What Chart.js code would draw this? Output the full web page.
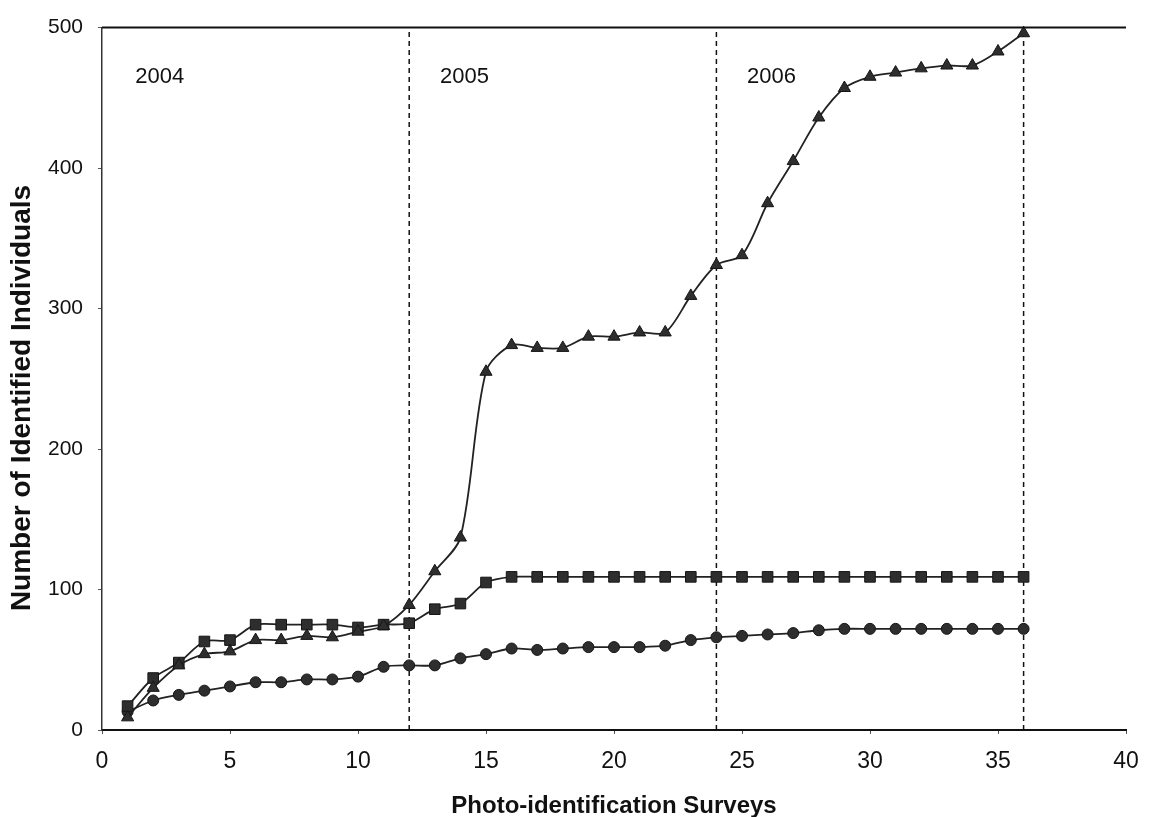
<!DOCTYPE html>
<html>
<head>
<meta charset="utf-8">
<title>Photo-identification Surveys</title>
<script src="https://cdn.jsdelivr.net/npm/chart.js@4.4.1/dist/chart.umd.min.js"></script>
<style>
    body { margin: 0; background: #ffffff; }
    #chartBox { width: 1155px; height: 817px; }
</style>
</head>
<body>
<div id="chartBox">
    <canvas id="surveyChart" width="1155" height="817"></canvas>
</div>
<script>
// Survey number (x) for each point
const surveys = [1, 2, 3, 4, 5, 6, 7, 8, 9, 10, 11, 12, 13, 14, 15, 16, 17, 18,
    19, 20, 21, 22, 23, 24, 25, 26, 27, 28, 29, 30, 31, 32, 33, 34, 35, 36];

// Cumulative identified individuals
const triangleSeries = [9, 30, 46, 54, 56, 64, 64, 67, 66, 70, 74, 89, 113, 137, 255, 274, 272, 272,
    280, 280, 283, 283, 309, 331, 338, 375, 405, 436, 457, 465, 468, 471, 473, 473, 483, 496];
const squareSeries = [17, 37, 48, 63, 64, 75, 75, 75, 75, 73, 75, 76, 86, 90, 105, 109, 109, 109,
    109, 109, 109, 109, 109, 109, 109, 109, 109, 109, 109, 109, 109, 109, 109, 109, 109, 109];
const circleSeries = [13, 21, 25, 28, 31, 34, 34, 36, 36, 38, 45, 46, 46, 51, 54, 58, 57, 58,
    59, 59, 59, 60, 64, 66, 67, 68, 69, 71, 72, 72, 72, 72, 72, 72, 72, 72];

// Year boundaries (dashed lines) and year labels
const yearBreaks = [12, 24, 36];
const yearLabels = ['2004', '2005', '2006'];
const yearLabelX = [1.3, 13.2, 25.2];
const yearLabelY = 465;

const xTicks = [0, 5, 10, 15, 20, 25, 30, 35, 40];
const yTicks = [0, 100, 200, 300, 400, 500];

const xTitle = 'Photo-identification Surveys';
const yTitle = 'Number of Identified Individuals';

const fontFamily = '"Liberation Sans", Arial, Helvetica, sans-serif';
const ink = '#222222';

function toPoints(values) {
    return surveys.map((s, i) => ({ x: s, y: values[i] }));
}

function seriesDataset(values, shape, radius, label) {
    return {
        label: label,
        data: toPoints(values),
        borderColor: ink,
        borderWidth: 1.8,
        pointStyle: shape,
        pointRadius: radius,
        pointBackgroundColor: '#2e2e2e',
        pointBorderColor: '#151515',
        pointBorderWidth: 1,
        tension: 0.3,
        fill: false,
        clip: false,
        order: 1
    };
}

const datasets = [
    seriesDataset(triangleSeries, 'triangle', 7, 'Triangles'),
    seriesDataset(squareSeries, 'rect', 7.5, 'Squares'),
    seriesDataset(circleSeries, 'circle', 5.5, 'Circles')
];

// Dashed year separators go in as plain two-point lines
yearBreaks.forEach(x => {
    datasets.push({
        label: 'break ' + x,
        data: [{ x: x, y: 0 }, { x: x, y: 500 }],
        borderColor: '#111111',
        borderWidth: 1.5,
        borderDash: [5, 4],
        pointRadius: 0,
        tension: 0,
        clip: false,
        order: 2
    });
});

// Top frame line, rotated y title and the year labels
const extrasPlugin = {
    id: 'extras',
    afterDraw(chart) {
        const ctx = chart.ctx;
        const area = chart.chartArea;
        const xs = chart.scales.x;
        const ys = chart.scales.y;

        ctx.save();
        ctx.strokeStyle = '#111111';
        ctx.lineWidth = 2;
        ctx.beginPath();
        ctx.moveTo(area.left, area.top);
        ctx.lineTo(area.right, area.top);
        ctx.stroke();

        ctx.fillStyle = '#111111';
        ctx.font = '22px ' + fontFamily;
        ctx.textAlign = 'left';
        ctx.textBaseline = 'middle';
        yearLabels.forEach((txt, i) => {
            ctx.fillText(txt, xs.getPixelForValue(yearLabelX[i]), ys.getPixelForValue(yearLabelY));
        });

        ctx.translate(22, 398);
        ctx.rotate(-Math.PI / 2);
        ctx.font = 'bold 28px ' + fontFamily;
        ctx.textAlign = 'center';
        ctx.fillText(yTitle, 0, 0);
        ctx.restore();
    }
};

const chart = new Chart(document.getElementById('surveyChart').getContext('2d'), {
    type: 'line',
    data: { datasets: datasets },
    options: {
        responsive: false,
        animation: false,
        layout: { padding: { top: 23, right: 29, left: 0, bottom: 0 } },
        plugins: {
            legend: { display: false },
            tooltip: { enabled: false }
        },
        scales: {
            x: {
                type: 'linear',
                min: 0,
                max: 40,
                afterBuildTicks: scale => { scale.ticks = xTicks.map(v => ({ value: v })); },
                afterFit: scale => { scale.height = 87; },
                grid: { drawOnChartArea: false, tickLength: 4, color: '#555555' },
                border: { color: '#111111', width: 2 },
                ticks: {
                    color: '#111111',
                    font: { family: fontFamily, size: 23 },
                    padding: 14,
                    maxRotation: 0
                },
                title: {
                    display: true,
                    text: xTitle,
                    color: '#111111',
                    font: { family: fontFamily, size: 24, weight: 'bold', lineHeight: 0.9 },
                    padding: 0
                }
            },
            y: {
                min: 0,
                max: 500,
                afterBuildTicks: scale => { scale.ticks = yTicks.map(v => ({ value: v })); },
                afterFit: scale => { scale.width = 102; },
                grid: { drawOnChartArea: false, tickLength: 4, color: '#555555' },
                border: { color: '#333333', width: 1.5 },
                ticks: {
                    color: '#111111',
                    font: { family: fontFamily, size: 21 },
                    padding: 15
                }
            }
        }
    },
    plugins: [extrasPlugin]
});
</script>
</body>
</html>
